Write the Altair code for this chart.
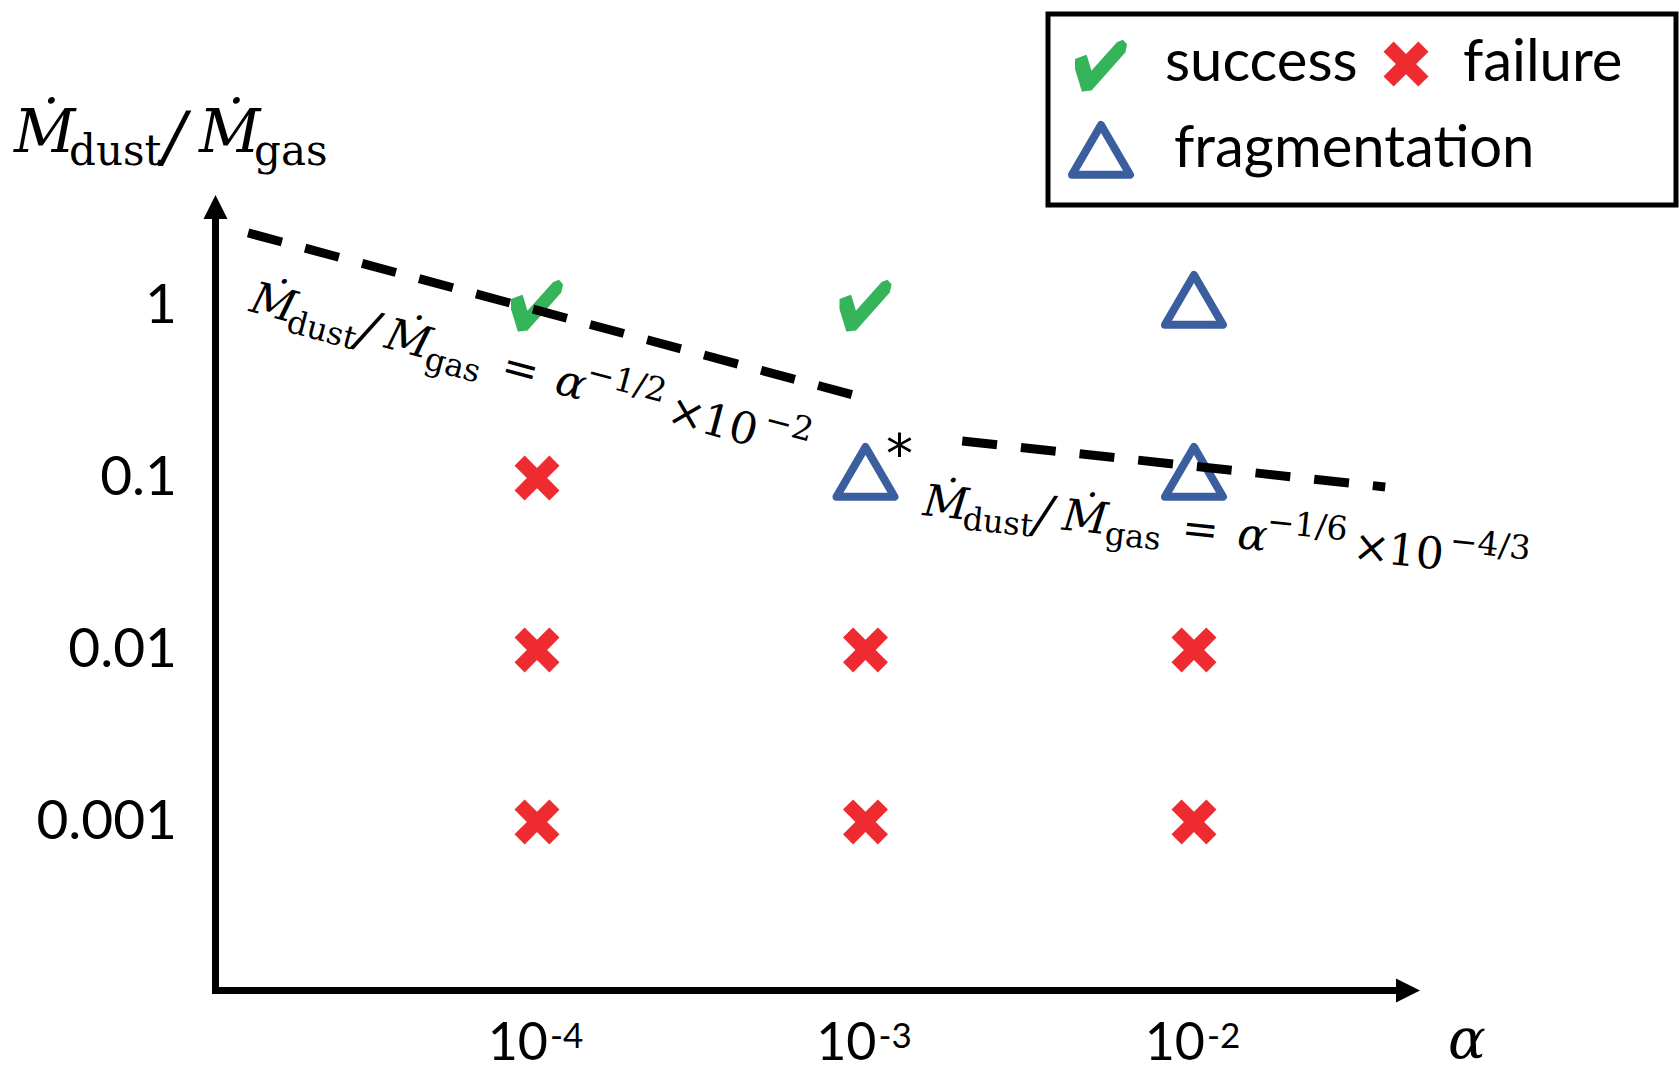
import altair as alt
import pandas as pd

# ---------------- data ----------------
pt_alpha = [1e-4, 1e-4, 1e-4, 1e-4, 1e-3, 1e-3, 1e-3, 1e-3, 1e-2, 1e-2, 1e-2, 1e-2]
pt_ratio = [1, 0.1, 0.01, 0.001, 1, 0.1, 0.01, 0.001, 1, 0.1, 0.01, 0.001]
pt_outcome = ["success", "failure", "failure", "failure",
              "success", "fragmentation", "failure", "failure",
              "fragmentation", "fragmentation", "failure", "failure"]
pt_note = ["", "", "", "", "", "*", "", "", "", "", "", ""]

# dashed guide lines (end points)
line1_alpha = [1.32e-5, 9.42e-4]
line1_ratio = [2.66, 0.300]
line2_alpha = [1.97e-3, 3.82e-2]
line2_ratio = [0.164, 0.0887]

# formula anchors (start of the rotated labels)
f1_alpha = [1.318e-5]
f1_ratio = [0.935]
f2_alpha = [1.486e-3]
f2_ratio = [0.0610]

x_tick_values = [1e-4, 1e-3, 1e-2]
x_tick_base = ["10", "10", "10"]
x_tick_exp = ["-4", "-3", "-2"]
y_tick_values = [1, 0.1, 0.01, 0.001]
y_tick_labels = ["1", "0.1", "0.01", "0.001"]

legend_labels = ["success", "failure", "fragmentation"]

# ---------------- styles ----------------
GREEN = "#35b45a"
RED = "#ee2b30"
BLUE = "#3a5e9e"
SERIF = "DejaVu Serif"
SANS = "Lato"
MDOT = "\u1E40"
ALPHA = "\u03B1"
MINUS = "\u2212"
TIMES = "\u00D7"

CHECK = ("M -1 -0.254 L -0.6 -0.403 L -0.4 0.269 L 0.667 -0.925 L 0.867 -1 "
         "L 1 -0.851 L 0.933 -0.552 L -0.4 0.94 L -0.733 0.985 L -1 0.119 Z")
CROSS = ("M -1 -0.55 L -0.55 -1 L 0 -0.45 L 0.55 -1 L 1 -0.55 L 0.45 0 "
         "L 1 0.55 L 0.55 1 L 0 0.45 L -0.55 1 L -1 0.55 L -0.45 0 Z")
TRI = "M 0 -1.07 L 1 0.65 L -1 0.65 Z"
ARROW_UP = "M 0 -1 L 1 1 L -1 1 Z"
ARROW_RIGHT = "M 1 0 L -1 1 L -1 -1 Z"

XS = alt.Scale(type="log", domain=[2.319e-6, 0.29955], nice=False)
YS = alt.Scale(type="log", domain=[3.567e-5, 60.13], nice=False)


def X():
    return alt.X("alpha:Q", scale=XS, axis=None)


def Y():
    return alt.Y("ratio:Q", scale=YS, axis=None)


pts = pd.DataFrame(dict(alpha=pt_alpha, ratio=pt_ratio, outcome=pt_outcome, note=pt_note))
one = pd.DataFrame({"k": [0]})

layers = []

# axes (decorations, pixel positions)
layers.append(alt.Chart(one).mark_rule(color="black", strokeWidth=7).encode(
    x=alt.value(215.5), y=alt.value(209), y2=alt.value(994)))
layers.append(alt.Chart(one).mark_rule(color="black", strokeWidth=7).encode(
    x=alt.value(212), x2=alt.value(1406), y=alt.value(990.5)))
layers.append(alt.Chart(one).mark_point(shape=ARROW_UP, size=576, filled=True, color="black", opacity=1).encode(
    x=alt.value(215.5), y=alt.value(207)))
layers.append(alt.Chart(one).mark_point(shape=ARROW_RIGHT, size=576, filled=True, color="black", opacity=1).encode(
    x=alt.value(1408), y=alt.value(990.5)))

# tick labels
yt = pd.DataFrame(dict(ratio=y_tick_values, label=y_tick_labels))
layers.append(alt.Chart(yt).mark_text(font=SANS, fontSize=55, align="right", baseline="middle", color="black").encode(
    x=alt.value(177), y=Y(), text="label:N"))
xt = pd.DataFrame(dict(alpha=x_tick_values, base=x_tick_base, exp=x_tick_exp))
layers.append(alt.Chart(xt).mark_text(font=SANS, fontSize=52, align="right", baseline="alphabetic", dx=11, color="black").encode(
    x=X(), y=alt.value(1060), text="base:N"))
layers.append(alt.Chart(xt).mark_text(font=SANS, fontSize=35, align="left", baseline="alphabetic", dx=13, color="black").encode(
    x=X(), y=alt.value(1048), text="exp:N"))

# axis titles
layers.append(alt.Chart(one).mark_text(font=SERIF, fontSize=56, fontStyle="italic", align="left", baseline="alphabetic", color="black").encode(
    x=alt.value(1448), y=alt.value(1058), text=alt.value(ALPHA)))
title_segs = [
    (MDOT, 14, 152, 60, "italic"),
    ("dust", 69, 165, 42, "normal"),
    ("/", 163, 160, 68, "italic"),
    (MDOT, 199, 152, 60, "italic"),
    ("gas", 254, 165, 42, "normal"),
]
for t, px, py, fs, st in title_segs:
    layers.append(alt.Chart(one).mark_text(font=SERIF, fontSize=fs, fontStyle=st, align="left", baseline="alphabetic", color="black").encode(
        x=alt.value(px), y=alt.value(py), text=alt.value(t)))

# markers
layers.append(alt.Chart(pts).transform_filter(alt.datum.outcome == "success").mark_point(
    shape=CHECK, size=2500, filled=True, color=GREEN, stroke=GREEN, strokeWidth=2, strokeJoin="round", opacity=1).encode(x=X(), y=Y()))
layers.append(alt.Chart(pts).transform_filter(alt.datum.outcome == "failure").mark_point(
    shape=CROSS, size=2025, filled=True, color=RED, opacity=1).encode(x=X(), y=Y()))
layers.append(alt.Chart(pts).transform_filter(alt.datum.outcome == "fragmentation").mark_point(
    shape=TRI, size=3364, filled=False, color=BLUE, strokeWidth=8, strokeJoin="round", opacity=1).encode(x=X(), y=Y()))
layers.append(alt.Chart(pts).transform_filter(alt.datum.note != "").mark_text(
    font="DejaVu Sans", fontSize=54, align="center", baseline="alphabetic", dx=34, dy=-6, color="black").encode(
    x=X(), y=Y(), text="note:N"))

# dashed lines
for la, lr in [(line1_alpha, line1_ratio), (line2_alpha, line2_ratio)]:
    d = pd.DataFrame(dict(alpha=la, ratio=lr))
    layers.append(alt.Chart(d).mark_line(color="black", strokeWidth=9, strokeDash=[35, 24], strokeCap="butt").encode(
        x=X(), y=Y()))

# rotated formulas
def formula(a, r, angle, sup1, sup2):
    d = pd.DataFrame(dict(alpha=a, ratio=r))
    segs = [
        (MDOT, 0, 0, 44, "italic"),
        ("dust", 41, 10, 32, "normal"),
        ("/", 112, 5, 52, "italic"),
        (MDOT, 140, 0, 44, "italic"),
        ("gas", 184, 10, 32, "normal"),
        ("=", 260, 0, 44, "normal"),
        (ALPHA, 316, 0, 44, "italic"),
        (sup1, 344, -19, 33, "normal"),
        (TIMES, 432, 0, 44, "normal"),
        ("10", 467, 0, 44, "normal"),
        (sup2, 528, -19, 33, "normal"),
    ]
    out = []
    for t, dx, dy, fs, st in segs:
        out.append(alt.Chart(d).mark_text(font=SERIF, fontSize=fs, fontStyle=st, align="left", baseline="alphabetic",
                                          angle=angle, dx=dx, dy=dy, color="black").encode(
            x=X(), y=Y(), text=alt.value(t)))
    return out

layers += formula(f1_alpha, f1_ratio, 15, MINUS + "1/2", MINUS + "2")
layers += formula(f2_alpha, f2_ratio, 6, MINUS + "1/6", MINUS + "4/3")

# legend
layers.append(alt.Chart(one).mark_rect(fill="white", fillOpacity=0, stroke="black", strokeWidth=5).encode(
    x=alt.value(1048), x2=alt.value(1676), y=alt.value(14), y2=alt.value(205)))
layers.append(alt.Chart(one).mark_point(shape=CHECK, size=2500, filled=True, color=GREEN, stroke=GREEN, strokeWidth=2,
                                        strokeJoin="round", opacity=1).encode(x=alt.value(1101), y=alt.value(66)))
layers.append(alt.Chart(one).mark_point(shape=CROSS, size=2025, filled=True, color=RED, opacity=1).encode(
    x=alt.value(1406), y=alt.value(64)))
layers.append(alt.Chart(one).mark_point(shape=TRI, size=3364, filled=False, color=BLUE, strokeWidth=8,
                                        strokeJoin="round", opacity=1).encode(x=alt.value(1101), y=alt.value(156)))
for lbl, px, py in zip(legend_labels, [1165, 1463, 1174], [81, 81, 167]):
    layers.append(alt.Chart(one).mark_text(font=SANS, fontSize=58, align="left", baseline="alphabetic", color="black").encode(
        x=alt.value(px), y=alt.value(py), text=alt.value(lbl)))

chart = alt.layer(*layers).properties(
    width=1679, height=1071, padding=0, autosize=alt.AutoSizeParams(type="none"), background="white"
).configure_view(strokeOpacity=0)

chart.save("out.html", embed_options={"renderer": "svg", "actions": False})
